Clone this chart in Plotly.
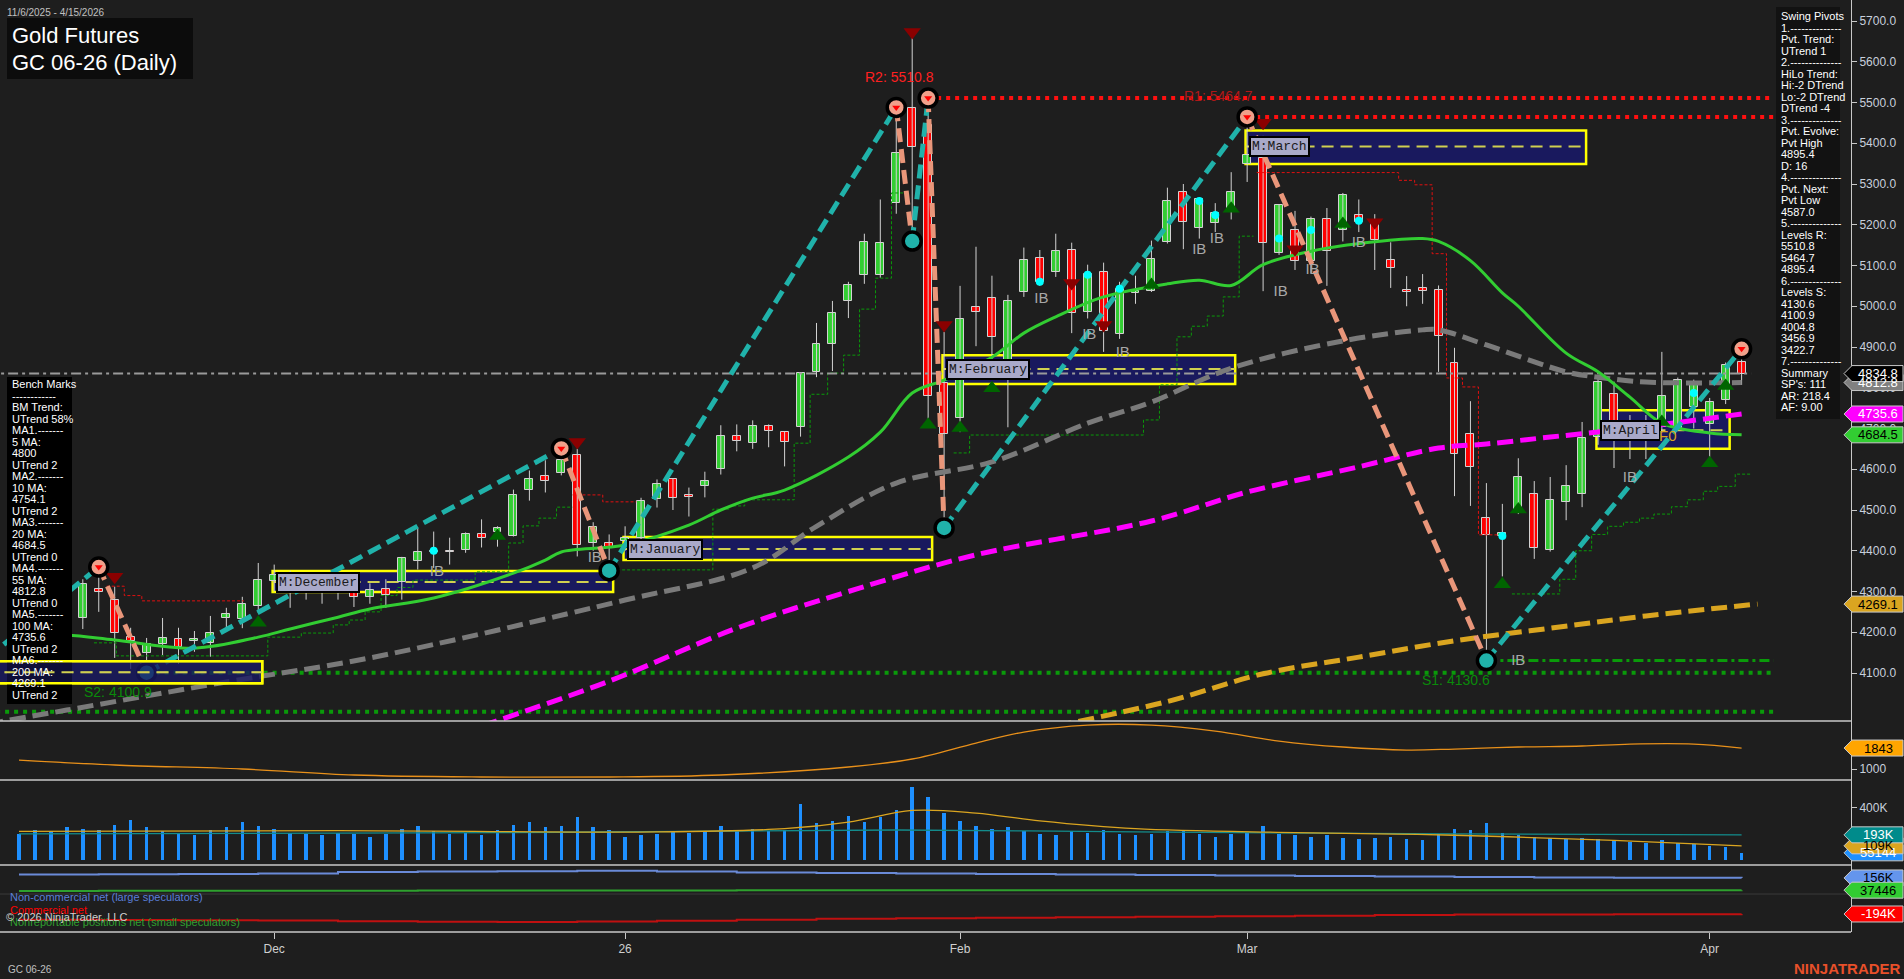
import plotly.graph_objects as go
import pandas as pd

# ---------------- DATA ----------------
holidays = ["2025-11-27", "2025-12-25", "2026-01-01", "2026-01-19", "2026-02-16", "2026-04-03"]
dates = [d for d in pd.bdate_range("2025-11-06", "2026-04-15") if d.strftime("%Y-%m-%d") not in holidays]

# time-axis labels as they appear on the chart
tick_dates = ["2025-12-01", "2026-01-02", "2026-02-03", "2026-03-02", "2026-04-13"]
tick_labels = ["Dec", "26", "Feb", "Mar", "Apr"]

open_ = [4190, 4212, 4245, 4228, 4235, 4307, 4280, 4189, 4149, 4171, 4184, 4179, 4174, 4235, 4233, 4265,
         4325, 4330, 4313, 4322, 4305, 4296, 4287, 4307, 4324, 4376, 4398, 4400, 4403, 4440, 4445, 4437,
         4548, 4583, 4592, 4634, 4420, 4420, 4425, 4432, 4528, 4575, 4536, 4558, 4600, 4681, 4664, 4706,
         4691, 4703, 4838, 4907, 5013, 5077, 5077, 5254, 5486, 5444, 4811, 4725, 4998, 5020, 4834, 5035,
         5119, 5085, 5139, 4986, 5085, 4932, 5033, 5038, 5158, 5281, 5191, 5205, 5234, 5350, 5365, 5131,
         5187, 5112, 5215, 5187, 5224, 5210, 5114, 5041, 5045, 5041, 4861, 4687, 4480, 4436, 4493, 4539,
         4402, 4519, 4539, 4680, 4785, 4695, 4682, 4704, 4702, 4753, 4710, 4770, 4863]
high = [4235, 4262, 4282, 4270, 4330, 4360, 4312, 4211, 4186, 4235, 4211, 4203, 4240, 4260, 4287, 4370,
        4366, 4351, 4345, 4341, 4330, 4328, 4320, 4330, 4385, 4457, 4447, 4432, 4445, 4477, 4460, 4550,
        4597, 4622, 4651, 4650, 4470, 4440, 4460, 4530, 4575, 4578, 4555, 4594, 4708, 4710, 4720, 4710,
        4693, 4836, 4959, 5013, 5060, 5178, 5262, 5488, 5660, 5510.8, 4937, 5050, 5146, 5075, 5028, 5144,
        5138, 5178, 5156, 5102, 5107, 5060, 5075, 5161, 5291, 5300, 5267, 5253, 5329, 5464.7, 5418, 5250,
        5234, 5220, 5241, 5278, 5262, 5226, 5157, 5074, 5079, 5051, 4898, 4767, 4566, 4515, 4627, 4571,
        4581, 4610, 4716, 4822, 4815, 4733, 4733, 4888, 4825, 4820, 4775, 4862, 4895.4]
low = [4150, 4180, 4200, 4205, 4208, 4250, 4137, 4110, 4100.9, 4144, 4122, 4152, 4140, 4206, 4210, 4248,
       4300, 4260, 4280, 4270, 4280, 4262, 4270, 4260, 4280, 4354, 4358, 4366, 4395, 4408, 4410, 4435,
       4523, 4543, 4585, 4386, 4400, 4351, 4400, 4420, 4506, 4500, 4484, 4531, 4587, 4644, 4650, 4654,
       4607, 4680, 4826, 4841, 4971, 5055, 5070, 5227, 5160, 4720, 4456, 4691, 4902, 4821, 4703, 5023,
       5050, 5072, 4934, 4970, 4888, 4920, 5006, 5035, 5154, 5140, 5166, 5182, 5213, 5305, 5037, 5126,
       5089, 5080, 5050, 5159, 5182, 5089, 5045, 5000, 5006, 4839, 4534, 4510, 4130.6, 4337, 4490, 4380,
       4398, 4475, 4507, 4660, 4603, 4625, 4625, 4690, 4695, 4700, 4625, 4760, 4807]
close = [4212, 4245, 4228, 4240, 4319, 4300, 4198, 4179, 4171, 4186, 4164, 4184, 4198, 4245, 4270, 4327,
         4340, 4313, 4322, 4305, 4300, 4287, 4304, 4292, 4381, 4398, 4400, 4398, 4442, 4432, 4455, 4536,
         4575, 4570, 4622, 4413, 4459, 4408, 4432, 4521, 4565, 4530, 4531, 4570, 4681, 4669, 4706, 4693,
         4666, 4836, 4907, 4984, 5053, 5158, 5156, 5375, 5390, 4779, 4686, 4969, 4986, 4925, 5013, 5114,
         5060, 5136, 4984, 5080, 4939, 5043, 5037, 5117, 5259, 5207, 5262, 5229, 5281, 5370, 5154, 5248,
         5111, 5215, 5135, 5273, 5206, 5163, 5093, 5035, 5038, 4927, 4637, 4606, 4439, 4444, 4581, 4407,
         4524, 4558, 4677, 4815, 4680, 4685, 4690, 4779, 4820, 4807, 4765, 4856, 4834.8]

# moving averages (bar index, value)
ma20_idx = [0, 3, 6, 11, 15, 17, 20, 22, 26, 31, 33, 34, 38, 42, 44, 46, 48, 52, 54, 56, 58, 61, 63, 65,
            68, 72, 74, 76, 78, 81, 85, 88, 89, 91, 93, 94, 97, 99, 101, 103, 106, 108]
ma20_val = [4195, 4193, 4181, 4161, 4188, 4208, 4237, 4257, 4284, 4345, 4377, 4397, 4414, 4463, 4500, 4529,
            4549, 4630, 4691, 4787, 4819, 4875, 4934, 4974, 5023, 5055, 5064, 5051, 5102, 5135, 5158, 5166,
            5159, 5112, 5033, 5000, 4885, 4839, 4777, 4713, 4689, 4684.5]
ma55_idx = [-2, 3, 13, 22, 38, 46, 50, 55, 61, 67, 71, 76, 83, 88, 89, 92, 97, 99, 102, 108]
ma55_val = [3975, 4009, 4078, 4137, 4279, 4358, 4460, 4566, 4618, 4713, 4765, 4848, 4915, 4942, 4942, 4905,
            4839, 4826, 4814, 4812.8]
ma100_idx = [29, 37, 45, 52, 60, 71, 77, 84, 89, 92, 96, 101, 108]
ma100_val = [3970, 4080, 4210, 4300, 4390, 4473, 4544, 4606, 4652, 4662, 4679, 4700, 4735.6]
ma200_idx = [65, 72, 78, 84, 90, 96, 102, 109]
ma200_val = [3970, 4030, 4098, 4139, 4179, 4210, 4240, 4269.1]

# swing pivots (bar index, price)
swing_idx = [-3, 5, 8, 34, 37, 55, 56, 57, 58, 77, 92, 108]
swing_px = [4105, 4360, 4100.9, 4651, 4351, 5488, 5160, 5510.8, 4456, 5464.7, 4130.6, 4895.4]
piv_hi_idx = [5, 34, 55, 57, 77, 108]
piv_hi_px = [4360, 4651, 5488, 5510.8, 5464.7, 4895.4]
piv_lo_idx = [8, 37, 56, 58, 92]
piv_lo_px = [4100.9, 4351, 5160, 4456, 4130.6]

# levels
res_names = ["R2: 5510.8", "R1: 5464.7"]
res_vals = [5510.8, 5464.7]
res_start = [57, 77]
sup_names = ["S2: 4100.9", "S1: 4130.6"]
sup_vals = [4100.9, 4130.6]
sup_start = [8, 92]
deep_support = 4004.8
last_price = 4834.8

# monthly value boxes
m_names = ["", "M:December", "M:January", "M:February", "M:March", "M:April"]
m_start = [-2, 16, 38, 58, 77, 99]
m_end = [15, 37, 57, 76, 98, 107]
m_low = [4075, 4299, 4377, 4809, 5349, 4650]
m_high = [4129, 4350, 4434, 4880, 5431, 4745]
m_mid = [4102, 4323, 4404, 4846, 5392, 4696]

# trailing stops (step lines)
grn_trail_idx = [4.7, 6.1, 14.7, 15.6, 17.7, 19.7, 20.7, 21.7, 22.7, 23.7, 24.7, 28.6, 30.7, 31.6, 32.6, 33.7, 34.7, None,
                 37.5, 38.6, 43.5, 44.5, 45.5, 48.6, 49.6, 50.7, 51.7, 52.7, 53.7, 54.7, 55.7, None,
                 58.6, 59.6, 70.5, 71.5, 72.6, 73.5, 74.5, 75.5, 76.5, 77.4, None,
                 93.6, 94.6, 96.6, 97.6, 98.6, 99.6, 100.6, 101.6, 102.5, 103.6, 104.6, 105.6, 106.5, 107.6, 108.6]
grn_trail_val = [4174, 4142, 4142, 4188, 4198, 4218, 4230, 4250, 4290, 4310, 4328, 4348, 4419, 4461, 4480, 4507, 4507, None,
                 4353, 4353, 4502, 4510, 4525, 4664, 4784, 4836, 4880, 4993, 5069, 5278, 5278, None,
                 4640, 4684, 4721, 4807, 4925, 4951, 4976, 5023, 5172, 5172, None,
                 4294, 4294, 4330, 4400, 4440, 4460, 4470, 4480, 4490, 4508, 4525, 4546, 4558, 4588, 4588]
red_trail_idx = [5.5, 6.6, 7.7, 14.1, None, 34.7, 36.6, 38.7, None,
                 77.6, 86.5, 87.5, 88.6, 89.5, 90.5, 91.5, 92.7]
red_trail_val = [4313, 4290, 4277, 4277, None, 4537, 4520, 4520, None,
                 5328, 5309, 5298, 5129, 4824, 4802, 4439, 4439]

# signal markers
tri_dn_idx = [6, 35, 56, 58, 66, 68, 78, 80, 85]
tri_dn_px = [4336, 4667, 5673, 4954, 5057, 4954, 5450, 5140, 5206]
tri_up_idx = [15, 30, 57, 59, 61, 71, 76, 83, 93, 94, 103, 106, 107]
tri_up_px = [4223, 4436, 4709, 4701, 4799, 5052, 5239, 5202, 4318, 4501, 4716, 4615, 4804]
dot_idx = [26, 64, 67, 69, 74, 75, 79, 81, 84, 93, 101, 105]
dot_px = [4400, 5060, 5077, 5043, 5258, 5224, 5166, 5187, 5210, 4436, 4684, 4787]
ib_idx = [26.2, 36.1, 64.1, 67.1, 69.2, 74.0, 75.1, 79.1, 81.1, 84.0, 94.0, 101.0]
ib_px = [4348, 4382, 5018, 4929, 4885, 5138, 5165, 5035, 5089, 5155, 4130, 4579]

# lower panels
osc_idx = [0, 6, 14, 21, 29, 37, 44, 52, 56, 60, 63, 67, 71, 75, 79, 83, 87, 90, 94, 98, 101, 105, 108]
osc_val = [1361, 1161, 1000, 759, 679, 679, 759, 1080, 1402, 2044, 2486, 2767, 2767, 2526, 2124, 1884,
           1763, 1803, 1884, 1924, 2004, 2004, 1843]
volume_k = [200, 230, 220, 250, 240, 230, 270, 310, 250, 220, 200, 190, 230, 250, 290, 260,
            240, 210, 200, 190, 210, 200, 180, 200, 240, 260, 220, 200, 210, 190, 230, 270,
            290, 250, 260, 330, 250, 230, 180, 190, 200, 220, 210, 220, 260, 230, 240, 220,
            230, 430, 280, 300, 340, 290, 330, 380, 560, 480, 360, 300, 260, 240, 250, 220,
            200, 190, 220, 210, 230, 200, 190, 200, 220, 230, 200, 180, 200, 210, 260, 200,
            190, 180, 190, 170, 160, 170, 180, 160, 150, 200, 240, 230, 280, 210, 190, 180,
            170, 160, 170, 160, 150, 140, 130, 150, 130, 120, 110, 100, 55.144]
vol_ma_idx = [0, 20, 40, 48, 52, 56, 60, 64, 70, 80, 90, 100, 108]
vol_ma_val = [220, 225, 215, 240, 290, 380, 360, 300, 240, 210, 190, 150, 109]
oi_idx = [0, 30, 55, 70, 90, 108]
oi_val = [200, 210, 230, 215, 200, 193]
cot_idx = [0, 5, 10, 15, 20, 25, 30, 35, 40, 45, 50, 55, 60, 65, 70, 75, 80, 85, 90, 95, 100, 108]
cot_noncomm = [190, 192, 195, 200, 215, 220, 222, 225, 218, 210, 205, 200, 195, 190, 185, 180, 175, 170, 165, 160, 158, 156]
cot_comm = [-250, -252, -255, -258, -265, -270, -272, -268, -260, -250, -240, -235, -230, -225, -220, -215, -210, -205, -200, -198, -196, -194]
cot_small = [30, 31, 31, 32, 33, 34, 34, 35, 35, 36, 36, 37, 37, 37, 37, 37, 37, 37, 37, 37, 37, 37.446]

price_ticks = [4100, 4200, 4300, 4400, 4500, 4600, 4700, 4800, 4900, 5000, 5100, 5200, 5300, 5400, 5500, 5600, 5700]

bench_lines = ["Bench Marks", "------------", "BM Trend:", "UTrend 58%", "MA1.-------", "5 MA:", "4800", "UTrend 2",
               "MA2.-------", "10 MA:", "4754.1", "UTrend 2", "MA3.-------", "20 MA:", "4684.5", "UTrend 0",
               "MA4.-------", "55 MA:", "4812.8", "UTrend 0", "MA5.-------", "100 MA:", "4735.6", "UTrend 2",
               "MA6.-------", "200 MA:", "4269.1", "UTrend 2"]
swing_lines = ["Swing Pivots", "1.--------------", "Pvt. Trend:", "UTrend 1", "2.--------------", "HiLo Trend:",
               "Hi:-2 DTrend", "Lo:-2 DTrend", "DTrend -4", "3.--------------", "Pvt. Evolve:", "Pvt High",
               "4895.4", "D: 16", "4.--------------", "Pvt. Next:", "Pvt Low", "4587.0", "5.--------------",
               "Levels R:", "5510.8", "5464.7", "4895.4", "6.--------------", "Levels S:", "4130.6", "4100.9",
               "4004.8", "3456.9", "3422.7", "7.--------------", "Summary", "SP's: 111", "AR: 218.4", "AF: 9.00"]

# ---------------- LAYOUT GEOMETRY ----------------
W, H = 1904, 979
PW, PH = 1851, 932          # plot area
BG = "#1e1e1e"
FONT = "Liberation Sans, Arial, sans-serif"
dom_p = [(PH - 721) / PH, 1.0]
dom_o = [(PH - 780) / PH, dom_p[0]]
dom_v = [(PH - 865) / PH, dom_o[0]]
dom_c = [0.0, dom_v[0]]
rng_p = [5700 - 700 * 2.454, 5700 + 21 * 2.454]
rng_o = [558, 2930]
rng_v = [-38, 613]
rng_c = [-369, 282]
spacing = 15.95
x0px = 19
rng_x = [-x0px / spacing, (PW - x0px) / spacing]


def to_paper(v, dom, rng):
    return dom[0] + (v - rng[0]) / (rng[1] - rng[0]) * (dom[1] - dom[0])


def px_x(p):
    return p / PW


def px_y(p):
    return (PH - p) / PH


N = len(dates)
X = list(range(N))
date_str = [d.strftime("%Y-%m-%d") for d in dates]
tick_vals = [date_str.index(t) for t in tick_dates]
fig = go.Figure()

# ---------------- PRICE PANEL ----------------
wx, wy = [], []
for i in X:
    wx += [i, i, None]
    wy += [low[i], high[i], None]
fig.add_trace(go.Scatter(x=wx, y=wy, mode="lines", line=dict(color="#d2d2d2", width=1),
                         hoverinfo="skip", xaxis="x", yaxis="y"))
body_base = [min(o, c) for o, c in zip(open_, close)]
body_h = [max(abs(c - o), 2.0) for o, c in zip(open_, close)]
body_col = ["#32cd32" if c >= o else "#ff0000" for o, c in zip(open_, close)]
fig.add_trace(go.Bar(x=X, y=body_h, base=body_base, width=0.5,
                     marker=dict(color=body_col, line=dict(color="#d2d2d2", width=1)),
                     hoverinfo="skip", xaxis="x", yaxis="y"))

# trailing stop steps
fig.add_trace(go.Scatter(x=grn_trail_idx, y=grn_trail_val, mode="lines", line=dict(color="#0a9a0a", width=1, dash="3px,2px", shape="hv"),
                         hoverinfo="skip", xaxis="x", yaxis="y", connectgaps=False))
fig.add_trace(go.Scatter(x=red_trail_idx, y=red_trail_val, mode="lines", line=dict(color="#e01010", width=1, dash="3px,2px", shape="hv"),
                         hoverinfo="skip", xaxis="x", yaxis="y", connectgaps=False))

# level lines
for v, s in zip(res_vals, res_start):
    fig.add_trace(go.Scatter(x=[s, 110], y=[v, v], mode="lines", line=dict(color="#ff1010", width=4, dash="4px,5px"),
                             hoverinfo="skip", xaxis="x", yaxis="y"))
fig.add_trace(go.Scatter(x=[sup_start[0], 110], y=[sup_vals[0], sup_vals[0]], mode="lines",
                         line=dict(color="#0a9a0a", width=4, dash="4px,5px"), hoverinfo="skip", xaxis="x", yaxis="y"))
fig.add_trace(go.Scatter(x=[sup_start[1], 110], y=[sup_vals[1], sup_vals[1]], mode="lines",
                         line=dict(color="#0a9a0a", width=3, dash="10px,4px,3px,4px"), hoverinfo="skip", xaxis="x", yaxis="y"))
fig.add_trace(go.Scatter(x=[-2, 110], y=[deep_support, deep_support], mode="lines",
                         line=dict(color="#0a9a0a", width=4, dash="4px,5px"), hoverinfo="skip", xaxis="x", yaxis="y"))
fig.add_trace(go.Scatter(x=[-2, 108.6], y=[last_price, last_price], mode="lines",
                         line=dict(color="#9a9a9a", width=2, dash="10px,4px,3px,4px"), hoverinfo="skip", xaxis="x", yaxis="y"))

# moving averages
fig.add_trace(go.Scatter(x=ma200_idx, y=ma200_val, mode="lines", line=dict(color="#daa520", width=5, dash="16px,7px", shape="spline"),
                         hoverinfo="skip", xaxis="x", yaxis="y"))
fig.add_trace(go.Scatter(x=ma100_idx, y=ma100_val, mode="lines", line=dict(color="#ff00ff", width=5, dash="16px,7px", shape="spline"),
                         hoverinfo="skip", xaxis="x", yaxis="y"))
fig.add_trace(go.Scatter(x=ma55_idx, y=ma55_val, mode="lines", line=dict(color="#7a7a7a", width=5, dash="16px,7px", shape="spline"),
                         hoverinfo="skip", xaxis="x", yaxis="y"))
fig.add_trace(go.Scatter(x=ma20_idx, y=ma20_val, mode="lines", line=dict(color="#32cd32", width=3, shape="spline"),
                         hoverinfo="skip", xaxis="x", yaxis="y"))

# swing legs
up_x, up_y, dn_x, dn_y = [], [], [], []
for k in range(len(swing_idx) - 1):
    a, b = swing_px[k], swing_px[k + 1]
    if b > a:
        up_x += [swing_idx[k], swing_idx[k + 1], None]
        up_y += [a, b, None]
    else:
        dn_x += [swing_idx[k], swing_idx[k + 1], None]
        dn_y += [a, b, None]
fig.add_trace(go.Scatter(x=up_x, y=up_y, mode="lines", line=dict(color="#20b2aa", width=5, dash="14px,7px"),
                         hoverinfo="skip", xaxis="x", yaxis="y"))
fig.add_trace(go.Scatter(x=dn_x, y=dn_y, mode="lines", line=dict(color="#e9967a", width=5, dash="14px,7px"),
                         hoverinfo="skip", xaxis="x", yaxis="y"))

# markers
fig.add_trace(go.Scatter(x=tri_dn_idx, y=tri_dn_px, mode="markers", marker=dict(symbol="triangle-down", size=15, color="#8b0000"),
                         hoverinfo="skip", xaxis="x", yaxis="y"))
fig.add_trace(go.Scatter(x=tri_up_idx, y=tri_up_px, mode="markers", marker=dict(symbol="triangle-up", size=15, color="#006400"),
                         hoverinfo="skip", xaxis="x", yaxis="y"))
fig.add_trace(go.Scatter(x=dot_idx, y=dot_px, mode="markers", marker=dict(symbol="circle", size=8, color="#00ffff"),
                         hoverinfo="skip", xaxis="x", yaxis="y"))
fig.add_trace(go.Scatter(x=ib_idx, y=ib_px, mode="text", text=["IB"] * len(ib_idx),
                         textfont=dict(family=FONT, size=15, color="#a8a8a8"), hoverinfo="skip", xaxis="x", yaxis="y"))
fig.add_trace(go.Scatter(x=piv_hi_idx, y=piv_hi_px, mode="markers",
                         marker=dict(symbol="circle", size=18, color="#f0a08a", line=dict(color="#000000", width=3.5)),
                         hoverinfo="skip", xaxis="x", yaxis="y"))
fig.add_trace(go.Scatter(x=piv_hi_idx, y=piv_hi_px, mode="markers",
                         marker=dict(symbol="triangle-down", size=7, color="#ff0000"), hoverinfo="skip", xaxis="x", yaxis="y"))
fig.add_trace(go.Scatter(x=piv_lo_idx, y=piv_lo_px, mode="markers",
                         marker=dict(symbol="circle", size=18, color="#20b2aa", line=dict(color="#000000", width=3.5)),
                         hoverinfo="skip", xaxis="x", yaxis="y"))

# ---------------- LOWER PANELS ----------------
fig.add_trace(go.Scatter(x=osc_idx, y=osc_val, mode="lines", line=dict(color="#e8901a", width=1.3, shape="spline"),
                         hoverinfo="skip", xaxis="x", yaxis="y2"))
fig.add_trace(go.Bar(x=X, y=volume_k, width=0.22, marker=dict(color="#1e90ff", line=dict(width=0)),
                     hoverinfo="skip", xaxis="x", yaxis="y3"))
fig.add_trace(go.Scatter(x=oi_idx, y=oi_val, mode="lines", line=dict(color="#138c8c", width=1.3, shape="spline"),
                         hoverinfo="skip", xaxis="x", yaxis="y3"))
fig.add_trace(go.Scatter(x=vol_ma_idx, y=vol_ma_val, mode="lines", line=dict(color="#daa520", width=1.3, shape="spline"),
                         hoverinfo="skip", xaxis="x", yaxis="y3"))
fig.add_trace(go.Scatter(x=cot_idx, y=cot_noncomm, mode="lines", line=dict(color="#6a8ad8", width=2, shape="hv"),
                         hoverinfo="skip", xaxis="x", yaxis="y4"))
fig.add_trace(go.Scatter(x=cot_idx, y=cot_small, mode="lines", line=dict(color="#2ea02e", width=2, shape="hv"),
                         hoverinfo="skip", xaxis="x", yaxis="y4"))
fig.add_trace(go.Scatter(x=cot_idx, y=cot_comm, mode="lines", line=dict(color="#c01010", width=2, shape="hv"),
                         hoverinfo="skip", xaxis="x", yaxis="y4"))

# ---------------- SHAPES ----------------
shapes = []
annos = []

# monthly boxes
for k in range(len(m_names)):
    layer = "above" if k == 0 else "below"
    shapes.append(dict(type="rect", xref="x", yref="y", x0=m_start[k] - 0.1, x1=m_end[k] + 0.25,
                       y0=m_low[k], y1=m_high[k], fillcolor="rgba(25,25,100,0.92)" if k else "rgba(25,25,100,0.55)",
                       line=dict(color="#ffff00", width=2.5), layer=layer))
    shapes.append(dict(type="line", xref="x", yref="y", x0=m_start[k] - 0.1, x1=m_end[k] + 0.25,
                       y0=m_mid[k], y1=m_mid[k], line=dict(color="#d0d050", width=2, dash="12px,7px"), layer=layer))
    if m_names[k]:
        annos.append(dict(xref="x", yref="y", x=m_start[k] + 0.1, y=m_mid[k], xanchor="left", yanchor="middle",
                          text=m_names[k], showarrow=False, bgcolor="#a9a9c9", bordercolor="#000000", borderwidth=2,
                          borderpad=1, font=dict(family="Liberation Mono, Courier New, monospace", size=13, color="#1a1a1a")))
annos.append(dict(xref="x", yref="y", x=103.4, y=4682, text="F0", showarrow=False,
                  font=dict(family=FONT, size=15, color="#daa520")))

# separators and axis line
for yy in [721, 780, 865, 932]:
    shapes.append(dict(type="line", xref="paper", yref="paper", x0=0, x1=1, y0=px_y(yy), y1=px_y(yy),
                       line=dict(color="#c8c8c8", width=1.5), layer="above"))
shapes.append(dict(type="line", xref="paper", yref="paper", x0=0, x1=1, y0=to_paper(0, dom_c, rng_c),
                   y1=to_paper(0, dom_c, rng_c), line=dict(color="#3a3a3a", width=1), layer="below"))

# info panels
shapes.append(dict(type="rect", xref="paper", yref="paper", x0=px_x(7), x1=px_x(72), y0=px_y(704), y1=px_y(377),
                   fillcolor="#000000", line=dict(width=0), layer="above"))
# November box on top of bench panel
shapes.append(dict(type="rect", xref="x", yref="y", x0=m_start[0] - 0.1, x1=m_end[0] + 0.25, y0=m_low[0], y1=m_high[0],
                   fillcolor="rgba(25,25,100,0.55)", line=dict(color="#ffff00", width=2.5), layer="above"))
shapes.append(dict(type="line", xref="x", yref="y", x0=m_start[0] - 0.1, x1=m_end[0] + 0.25, y0=m_mid[0], y1=m_mid[0],
                   line=dict(color="#d0d050", width=2, dash="12px,7px"), layer="above"))
shapes.append(dict(type="rect", xref="paper", yref="paper", x0=px_x(1776), x1=px_x(1840), y0=px_y(419), y1=px_y(7),
                   fillcolor="#121212", line=dict(width=0), layer="above"))
shapes.append(dict(type="rect", xref="paper", yref="paper", x0=px_x(7), x1=px_x(193), y0=px_y(79), y1=px_y(18),
                   fillcolor="#0c0c0c", line=dict(width=0), layer="above"))

for k, t in enumerate(bench_lines):
    annos.append(dict(xref="paper", yref="paper", x=px_x(10), y=px_y(384 + 11.5 * k), xanchor="left", yanchor="middle",
                      text=t, showarrow=False, font=dict(family=FONT, size=11, color="#ffffff")))
for k, t in enumerate(swing_lines):
    annos.append(dict(xref="paper", yref="paper", x=px_x(1779), y=px_y(16 + 11.5 * k), xanchor="left", yanchor="middle",
                      text=t, showarrow=False, font=dict(family=FONT, size=11, color="#ffffff")))

# titles
annos.append(dict(xref="paper", yref="paper", x=px_x(5), y=px_y(12), xanchor="left", yanchor="middle",
                  text="11/6/2025 - 4/15/2026", showarrow=False, font=dict(family=FONT, size=10, color="#c0c0c0")))
annos.append(dict(xref="paper", yref="paper", x=px_x(10), y=px_y(35), xanchor="left", yanchor="middle",
                  text="Gold Futures", showarrow=False, font=dict(family=FONT, size=22, color="#ffffff")))
annos.append(dict(xref="paper", yref="paper", x=px_x(10), y=px_y(62), xanchor="left", yanchor="middle",
                  text="GC 06-26 (Daily)", showarrow=False, font=dict(family=FONT, size=22, color="#ffffff")))

# level labels
annos.append(dict(xref="x", yref="y", x=55.2, y=5563, text=res_names[0], showarrow=False,
                  font=dict(family=FONT, size=14, color="#ff2020")))
annos.append(dict(xref="x", yref="y", x=75.2, y=5515, text=res_names[1], showarrow=False,
                  font=dict(family=FONT, size=14, color="#b01818")))
annos.append(dict(xref="x", yref="y", x=6.2, y=4053, text=sup_names[0], showarrow=False,
                  font=dict(family=FONT, size=14, color="#0a8a0a")))
annos.append(dict(xref="x", yref="y", x=90.1, y=4083, text=sup_names[1], showarrow=False,
                  font=dict(family=FONT, size=14, color="#0a8a0a")))

# legend texts bottom-left
annos.append(dict(xref="paper", yref="paper", x=px_x(8), y=px_y(897), xanchor="left", yanchor="middle",
                  text="Non-commercial net (large speculators)", showarrow=False, font=dict(family=FONT, size=11, color="#5a7fd8")))
annos.append(dict(xref="paper", yref="paper", x=px_x(8), y=px_y(910), xanchor="left", yanchor="middle",
                  text="Commercial net", showarrow=False, font=dict(family=FONT, size=11, color="#ff0000")))
annos.append(dict(xref="paper", yref="paper", x=px_x(8), y=px_y(922), xanchor="left", yanchor="middle",
                  text="Nonreportable positions net (small speculators)", showarrow=False, font=dict(family=FONT, size=11, color="#2ea02e")))
annos.append(dict(xref="paper", yref="paper", x=px_x(4), y=px_y(917), xanchor="left", yanchor="middle",
                  text="© 2026 NinjaTrader, LLC", showarrow=False, font=dict(family=FONT, size=11, color="#d0d0d0")))
annos.append(dict(xref="paper", yref="paper", x=px_x(6), y=px_y(969), xanchor="left", yanchor="middle",
                  text="GC 06-26", showarrow=False, font=dict(family=FONT, size=10, color="#c0c0c0")))
annos.append(dict(xref="paper", yref="paper", x=px_x(1903), y=px_y(968), xanchor="right", yanchor="middle",
                  text="<b>NINJATRADER</b>", showarrow=False, font=dict(family=FONT, size=15, color="#e8502a")))

# right-side value markers
markers = [
    (dom_p, rng_p, 4812.8, "4812.8", "#808080", "#ffffff"),
    (dom_p, rng_p, 4834.8, "4834.8", "#000000", "#ffffff"),
    (dom_p, rng_p, 4735.6, "4735.6", "#ff00ff", "#ffffff"),
    (dom_p, rng_p, 4684.5, "4684.5", "#32cd32", "#000000"),
    (dom_p, rng_p, 4269.1, "4269.1", "#daa520", "#000000"),
    (dom_o, rng_o, 1843, "1843", "#ffa500", "#000000"),
    (dom_v, rng_v, 55.144, "55144", "#1e90ff", "#ffffff"),
    (dom_v, rng_v, 109, "109K", "#daa520", "#000000"),
    (dom_v, rng_v, 193, "193K", "#008b8b", "#ffffff"),
    (dom_c, rng_c, 156, "156K", "#6495ed", "#000000"),
    (dom_c, rng_c, 37.446, "37446", "#32cd32", "#000000"),
    (dom_c, rng_c, -194, "-194K", "#ff0000", "#ffffff"),
]
for dom, rng, v, txt, bg, fg in markers:
    yp = to_paper(v, dom, rng)
    shapes.append(dict(type="path", xref="paper", yref="paper", xsizemode="pixel", ysizemode="pixel",
                       xanchor=1.0, yanchor=yp, path="M -7,0 L 1,8 L 52,8 L 52,-8 L 1,-8 Z",
                       fillcolor=bg, line=dict(color="#c8c8c8", width=1), layer="above"))
    annos.append(dict(xref="paper", yref="paper", x=px_x(1878), y=yp, xanchor="center", yanchor="middle",
                      text=txt, showarrow=False, font=dict(family=FONT, size=13, color=fg)))

axis_font = dict(family=FONT, size=12, color="#c8d0dc")
common_y = dict(side="right", showgrid=False, zeroline=False, showline=True, linecolor="#c8c8c8", linewidth=1,
                ticks="outside", ticklen=5, tickcolor="#c8c8c8", tickfont=axis_font, anchor="x", fixedrange=True)

fig.update_layout(
    width=W, height=H, paper_bgcolor=BG, plot_bgcolor=BG, showlegend=False, hovermode=False,
    margin=dict(l=0, r=W - PW, t=0, b=H - PH), barmode="overlay", bargap=0,
    xaxis=dict(range=rng_x, tickvals=tick_vals, ticktext=tick_labels, showgrid=False, zeroline=False,
               showline=False, ticks="outside", ticklen=6, tickcolor="#c8c8c8",
               tickfont=dict(family=FONT, size=12, color="#d0d0d0"), anchor="y4", fixedrange=True),
    yaxis=dict(domain=dom_p, range=rng_p, tickvals=price_ticks, ticktext=[f"{v:.1f}" for v in price_ticks], **common_y),
    yaxis2=dict(domain=dom_o, range=rng_o, tickvals=[1000], ticktext=["1000"], **common_y),
    yaxis3=dict(domain=dom_v, range=rng_v, tickvals=[400], ticktext=["400K"], **common_y),
    yaxis4=dict(domain=dom_c, range=rng_c, tickvals=[], **common_y),
    shapes=shapes, annotations=annos,
)

fig.write_html("out.html", config={"displayModeBar": False},
               post_script="document.body.style.margin='0';document.body.style.overflow='hidden';"
                           "document.documentElement.style.overflow='hidden';document.body.style.background='#1e1e1e';")
